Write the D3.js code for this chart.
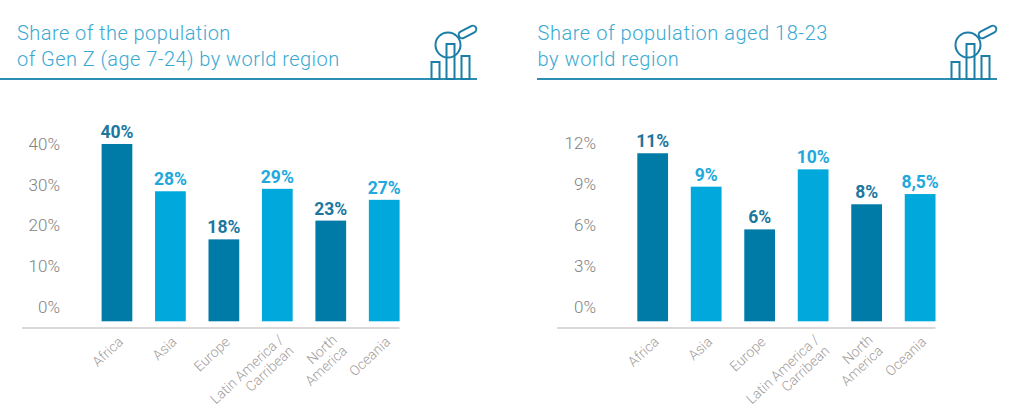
<!DOCTYPE html>
<html><head><meta charset="utf-8">
<script src="https://cdnjs.cloudflare.com/ajax/libs/d3/7.8.5/d3.min.js"></script>
<style>
html,body{margin:0;padding:0;background:#fff;overflow:hidden}
svg{display:block}
text{font-family:Roboto,sans-serif}
</style></head><body>
<svg id="c" width="1024" height="413"></svg>
<script>
const categories = [["Africa"],["Asia"],["Europe"],["Latin America /","Carribean"],["North","America"],["Oceania"]];
const title1 = ["Share of the population","of Gen Z (age 7-24) by world region"];
const values1 = [40,28.4,16.6,29,21.2,26.3];
const labels1 = ["40%","28%","18%","29%","23%","27%"];
const ticks1 = [0,10,20,30,40];
const title2 = ["Share of population aged 18-23","by world region"];
const values2 = [11.27,8.82,5.69,10.09,7.53,8.28];
const labels2 = ["11%","9%","6%","10%","8%","8,5%"];
const ticks2 = [0,3,6,9,12];

const DARK="#007ba8", LIGHT="#00a8dc", RULE="#2e8db2", ICON="#1b7ea6";
const svg=d3.select("#c");

function panel(o){
  const g=svg.append("g");
  const names=categories.map(c=>c.join(" "));
  const x=d3.scaleBand().domain(names).range([o.barL,o.barR]).paddingInner(0.425).paddingOuter(0);
  const y=d3.scaleLinear().domain([0,o.max]).range([307,o.topY]);
  const base=321.3;

  // title
  g.selectAll(".t").data(o.title).join("text").attr("class","t")
    .attr("x",o.titleX).attr("y",(d,i)=>39.5+i*26)
    .attr("fill","#3aa9d2").attr("font-size",20).attr("font-weight",300)
    .attr("letter-spacing",o.titleSp).text(d=>d);
  // header rule
  g.append("line").attr("x1",o.ruleL).attr("x2",o.ruleR).attr("y1",79).attr("y2",79)
    .attr("stroke",RULE).attr("stroke-width",2);
  // icon
  const ic=g.append("g").attr("transform",`translate(${o.ruleR-46},0)`).attr("fill","none")
    .attr("stroke",ICON).attr("stroke-width",2);
  ic.append("circle").attr("cx",17).attr("cy",45).attr("r",12.5);
  ic.append("rect").attr("x",0.5).attr("y",62).attr("width",8).attr("height",17);
  ic.append("rect").attr("x",15.5).attr("y",44).attr("width",8).attr("height",35);
  ic.append("rect").attr("x",30.5).attr("y",56).attr("width",8).attr("height",23);
  ic.append("rect").attr("x",27).attr("y",28.5).attr("width",19).attr("height",7).attr("rx",3.5)
    .attr("transform","rotate(-28 36.5 32)");

  // axis
  const ax=g.append("g").attr("transform",`translate(${o.tickX},0)`)
    .call(d3.axisLeft(y).tickValues(o.ticks).tickSize(0).tickPadding(0).tickFormat(d=>d+"%"));
  ax.select(".domain").remove();
  ax.selectAll("text").attr("fill","#828282").attr("font-size",17).attr("font-weight",300)
    .style("font-family","Roboto,sans-serif");

  // bars
  g.selectAll(".b").data(o.values).join("rect").attr("class","b")
    .attr("x",(d,i)=>x(names[i])).attr("width",x.bandwidth())
    .attr("y",d=>y(d)).attr("height",d=>base-y(d))
    .attr("fill",(d,i)=>i%2?LIGHT:DARK);
  // value labels
  g.selectAll(".v").data(o.values).join("text").attr("class","v")
    .attr("x",(d,i)=>x(names[i])+x.bandwidth()/2).attr("y",d=>y(d)-6)
    .attr("text-anchor","middle").attr("font-size",17.5).attr("font-weight",700)
    .attr("fill",(d,i)=>i%2?"#22a8dc":"#1c779f")
    .text((d,i)=>o.labels[i]);
  // baseline
  g.append("line").attr("x1",o.axisL).attr("x2",o.barR).attr("y1",328).attr("y2",328)
    .attr("stroke","#dcd8d8").attr("stroke-width",2);
  // category labels
  const cat=g.selectAll(".c").data(categories).join("text").attr("class","c")
    .attr("transform",(d,i)=>{
      const cx=x(names[i])+x.bandwidth()/2+7+(d.length>1?0:0);
      return `translate(${cx},${d.length>1?341:343}) rotate(-43)`;
    })
    .attr("text-anchor","end").attr("font-size",14).attr("font-weight",300).attr("fill","#9f9c9c");
  cat.selectAll("tspan").data(d=>d).join("tspan").attr("x",0).attr("dy",(d,i)=>i?15:0).text(d=>d);
}

panel({title:title1,values:values1,labels:labels1,ticks:ticks1,max:40,topY:144,titleSp:0.45,
  barL:101.6,barR:399.6,titleX:17,ruleL:0,ruleR:477,tickX:60,axisL:22});
panel({title:title2,values:values2,labels:labels2,ticks:ticks2,max:12,topY:143.3,titleSp:0.55,
  barL:637.3,barR:935.5,titleX:537.5,ruleL:537,ruleR:997,tickX:596,axisL:557});
</script>
</body></html>
